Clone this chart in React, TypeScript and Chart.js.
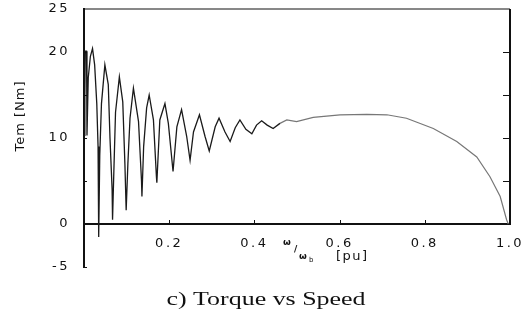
import React, { useEffect, useRef } from 'react';
import { Chart, registerables } from 'chart.js';

Chart.register(...registerables);

// speed ω/ωb [pu]
const speed = [
  0.000, 0.002, 0.003, 0.006, 0.007, 0.010, 0.015, 0.020, 0.025, 0.030,
  0.033, 0.034, 0.035, 0.037, 0.041, 0.049, 0.057, 0.061, 0.066, 0.067,
  0.070, 0.074, 0.083, 0.091, 0.096, 0.099, 0.103, 0.108, 0.116, 0.128,
  0.135, 0.136, 0.140, 0.147, 0.153, 0.163, 0.170, 0.171, 0.178, 0.190,
  0.198, 0.209, 0.218, 0.229, 0.241, 0.249, 0.257, 0.271, 0.284, 0.294,
  0.308, 0.317, 0.331, 0.343, 0.355, 0.366, 0.380, 0.394, 0.405, 0.417,
  0.430, 0.444, 0.460, 0.476, 0.499, 0.538, 0.601, 0.664, 0.711, 0.757,
  0.820, 0.875, 0.922, 0.953, 0.977, 0.992, 0.996,
];

// electromagnetic torque Tem [Nm]
const torque = [
  10.3, 15.0, 20.1, 20.1, 10.3, 17.0, 19.5, 20.4, 18.5, 14.0,
  9.0, 6.5, -1.5, 8.0, 14.0, 18.5, 16.2, 10.0, 4.0, 0.5,
  6.0, 13.0, 17.1, 14.2, 7.0, 1.6, 7.0, 12.3, 15.8, 11.9,
  5.0, 3.2, 9.0, 13.5, 15.0, 12.1, 5.5, 4.8, 12.1, 14.0,
  11.7, 6.1, 11.3, 13.3, 10.2, 7.4, 10.7, 12.7, 10.2, 8.5,
  11.3, 12.3, 10.7, 9.6, 11.2, 12.1, 11.0, 10.5, 11.5, 12.0,
  11.5, 11.1, 11.7, 12.1, 11.9, 12.4, 12.7, 12.75, 12.7, 12.3,
  11.1, 9.6, 7.8, 5.5, 3.2, 0.5, 0.0,
];

// index where the oscillating transient ends and the steady curve begins
const transientEnd = 62;

const xMin = 0;
const xMax = 1;
const yMin = -5;
const yMax = 25;

const xTickValues = [0.2, 0.4, 0.6, 0.8, 1.0];
const yLabelValues = [25, 20, 10, 0, -5];
const yTickMarks = [-5, 5, 10, 15, 20];
const rightTickMarks = [5, 10, 15, 20];

const yTitle = 'Tem [Nm]';
const xTitleOmega = 'ω';
const xTitleSub = 'b';
const xTitleUnit = '[pu]';
const caption = 'c) Torque vs Speed';

const points = speed.map((s, i) => ({ x: s, y: torque[i] }));

// axis frame: left axis (full range), x axis at 0, top border, right border down to 0
const frameLines = [
  [{ x: xMin, y: yMin }, { x: xMin, y: yMax }],
  [{ x: xMin, y: 0 }, { x: xMax, y: 0 }],
  [{ x: xMin, y: yMax }, { x: xMax, y: yMax }],
  [{ x: xMax, y: yMax }, { x: xMax, y: 0 }],
];

export default function App() {
  const ref = useRef<HTMLCanvasElement>(null);

  useEffect(() => {
    if (!ref.current) return;

    const framePlugin = {
      id: 'frame',
      beforeDraw(chart: any) {
        chart.ctx.letterSpacing = '2.5px';
      },
      afterDatasetsDraw(chart: any) {
        const ctx = chart.ctx as CanvasRenderingContext2D;
        const ca = chart.chartArea;
        const xs = chart.scales.x;
        const ys = chart.scales.y;
        const y0 = Math.round(ys.getPixelForValue(0));
        const L = Math.round(ca.left);
        const R = Math.round(ca.right);
        ctx.save();
        ctx.fillStyle = '#111';
        yTickMarks.forEach((v) => {
          const p = Math.round(ys.getPixelForValue(v));
          ctx.fillRect(L, p, 3, 1);
        });
        rightTickMarks.forEach((v) => {
          const p = Math.round(ys.getPixelForValue(v));
          ctx.fillRect(R - 7, p, 6, 1);
        });
        xTickValues.forEach((v) => {
          const p = Math.round(xs.getPixelForValue(v));
          ctx.fillRect(p, y0 - 4, 1, 3);
        });
        ctx.restore();
      },
      afterDraw(chart: any) {
        const ctx = chart.ctx as CanvasRenderingContext2D;
        ctx.save();
        ctx.fillStyle = '#111';

        // y title
        ctx.save();
        ctx.translate(21, 116);
        ctx.rotate(-Math.PI / 2);
        (ctx as any).letterSpacing = '1px';
        ctx.font = '13px "DejaVu Sans"';
        ctx.textAlign = 'center';
        ctx.textBaseline = 'middle';
        ctx.fillText(yTitle, 0, 0);
        ctx.restore();

        // x title: ω/ωb [pu]
        (ctx as any).letterSpacing = '0px';
        ctx.textAlign = 'left';
        ctx.textBaseline = 'alphabetic';
        ctx.font = 'bold 9px "DejaVu Sans"';
        ctx.fillText(xTitleOmega, 283, 245);
        ctx.fillText('/', 294, 252);
        ctx.fillText(xTitleOmega, 299, 259);
        ctx.font = '7px "DejaVu Sans"';
        ctx.fillText(xTitleSub, 309, 262);
        (ctx as any).letterSpacing = '1.5px';
        ctx.font = '13px "DejaVu Sans"';
        ctx.fillText(xTitleUnit, 336, 260);

        // caption
        (ctx as any).letterSpacing = '0px';
        ctx.save();
        ctx.translate(266, 305);
        ctx.scale(1.33, 1);
        ctx.font = '19.5px "Liberation Serif"';
        ctx.textAlign = 'center';
        ctx.fillText(caption, 0, 0);
        ctx.restore();

        ctx.restore();
      },
    };

    const tickFont = { family: '"DejaVu Sans"', size: 13 };

    const frameWidths = [2, 2, 1, 2];

    const chart = new Chart(ref.current, {
      type: 'line',
      data: {
        datasets: [
          {
            data: points.slice(0, transientEnd + 1),
            borderColor: '#1a1a1a',
            borderWidth: 1.3,
            pointRadius: 0,
          },
          {
            data: points.slice(transientEnd),
            borderColor: '#777',
            borderWidth: 1.2,
            pointRadius: 0,
          },
          ...frameLines.map((seg, i) => ({
            data: seg,
            borderColor: '#111',
            borderWidth: frameWidths[i],
            pointRadius: 0,
            clip: false,
          })),
        ],
      },
      options: {
        animation: false,
        responsive: true,
        maintainAspectRatio: false,
        layout: { padding: { left: 0, right: 13, top: 9, bottom: 53 } },
        plugins: { legend: { display: false }, tooltip: { enabled: false } },
        scales: {
          x: {
            type: 'linear',
            min: xMin,
            max: xMax,
            position: { y: 0 } as any,
            grid: { display: false },
            border: { display: true, color: '#111', width: 2 },
            afterFit: (s: any) => {
              s.paddingLeft = 0;
              s.paddingRight = 0;
            },
            ticks: {
              stepSize: 0.2,
              padding: 4,
              maxRotation: 0,
              autoSkip: false,
              color: '#111',
              font: tickFont,
              callback: (v: any) =>
                xTickValues.some((t) => Math.abs(t - Number(v)) < 1e-6) ? Number(v).toFixed(1) : '',
            },
          },
          y: {
            type: 'linear',
            min: yMin,
            max: yMax,
            grid: { display: false },
            border: { display: true, color: '#111', width: 2 },
            afterFit: (s: any) => {
              s.width = 84;
              s.paddingTop = 0;
              s.paddingBottom = 0;
            },
            ticks: {
              stepSize: 5,
              padding: 6,
              color: '#111',
              font: tickFont,
              callback: (v: any) => (yLabelValues.includes(Number(v)) ? String(v) : ''),
            },
          },
        },
      },
      plugins: [framePlugin],
    } as any);

    return () => chart.destroy();
  }, []);

  return (
    <div style={{ position: 'fixed', left: 0, top: 0, width: 523, height: 320, background: '#fff' }}>
      <canvas ref={ref} />
    </div>
  );
}
